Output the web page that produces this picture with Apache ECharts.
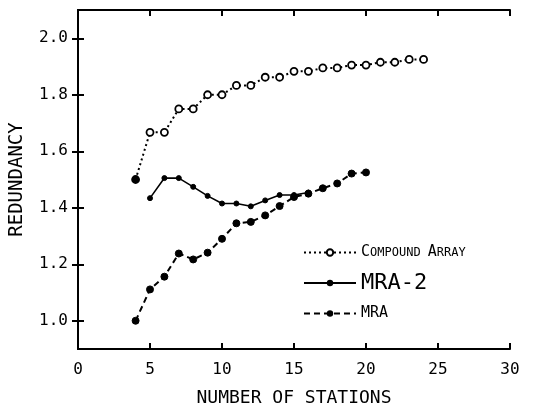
<!DOCTYPE html>
<html lang="en">
<head>
  <meta charset="UTF-8">
  <script src="https://cdn.jsdelivr.net/npm/echarts@6.0.0/dist/echarts.min.js"></script>
  <style>
    html, body { margin: 0; padding: 0; background: #fff; }
  </style>
</head>
<body>
  <div id="main" style="width: 545px;height:409px;"></div>
  <script type="text/javascript">

    // number of stations
    let compoundX = [4, 5, 6, 7, 8, 9, 10, 11, 12, 13, 14, 15, 16, 17, 18, 19, 20, 21, 22, 23, 24];
    let compoundY = [1.50, 1.667, 1.667, 1.75, 1.75, 1.80, 1.80, 1.833, 1.833, 1.862, 1.862, 1.883, 1.883, 1.895, 1.895, 1.905, 1.905, 1.915, 1.915, 1.925, 1.925];

    let mra2X = [5, 6, 7, 8, 9, 10, 11, 12, 13, 14, 15, 16];
    let mra2Y = [1.434, 1.505, 1.505, 1.474, 1.442, 1.415, 1.415, 1.405, 1.426, 1.445, 1.445, 1.454];

    let mraX = [4, 5, 6, 7, 8, 9, 10, 11, 12, 13, 14, 15, 16, 17, 18, 19, 20];
    let mraY = [1.00, 1.111, 1.156, 1.238, 1.217, 1.241, 1.29, 1.345, 1.35, 1.373, 1.406, 1.438, 1.45, 1.469, 1.486, 1.521, 1.525];

    let yTicks = [1.0, 1.2, 1.4, 1.6, 1.8, 2.0];

    let font = 'DejaVu Sans Mono';

    function pairs(xs, ys) {
      return xs.map(function (x, i) { return [x, ys[i]]; });
    }

    var myChart = echarts.init(document.getElementById('main'));

    let yBase = {
      type: 'value',
      min: 0.9,
      max: 2.1,
      splitLine: { show: false },
      axisLine: { show: true, lineStyle: { color: '#000', width: 2 } },
      axisTick: { show: true, inside: true, length: 6, customValues: yTicks, lineStyle: { color: '#000', width: 2 } },
      axisLabel: { show: true, customValues: yTicks, formatter: function (v) { return v.toFixed(1); }, color: '#000', fontFamily: font, fontSize: 16, margin: 10 }
    };
    let xBase = {
      type: 'value',
      min: 0,
      max: 30,
      interval: 5,
      splitLine: { show: false },
      axisLine: { show: true, lineStyle: { color: '#000', width: 2 } },
      axisTick: { show: true, inside: true, length: 6, lineStyle: { color: '#000', width: 2 } },
      axisLabel: { show: true, color: '#000', fontFamily: font, fontSize: 16, margin: 13 }
    };

    // first compound point is drawn filled in the original
    let compoundData = pairs(compoundX, compoundY).map(function (p, i) {
      return i === 0 ? { value: p, itemStyle: { color: '#000' } } : p;
    });

    myChart.setOption({
      animation: false,
      grid: { left: 78, right: 35, top: 10, bottom: 60, outerBoundsMode: 'none' },
      xAxis: [
        Object.assign({}, xBase, {
          position: 'bottom',
          name: 'NUMBER OF STATIONS',
          nameLocation: 'middle',
          nameGap: 40,
          nameTextStyle: { color: '#000', fontFamily: font, fontSize: 18 }
        }),
        Object.assign({}, xBase, { position: 'top', axisLabel: { show: false } })
      ],
      yAxis: [
        Object.assign({}, yBase, {
          position: 'left',
          name: 'REDUNDANCY',
          nameLocation: 'middle',
          nameGap: 51,
          nameTextStyle: { color: '#000', fontFamily: font, fontSize: 19 }
        }),
        Object.assign({}, yBase, { position: 'right', axisLabel: { show: false } })
      ],
      legend: [
        {
          data: ['Compound Array'], left: 298, top: 240, itemWidth: 52, itemHeight: 8,
          formatter: function () { return '{a|C}{b|OMPOUND }{a|A}{b|RRAY}'; },
          textStyle: {
            color: '#000', fontFamily: font,
            rich: { a: { fontSize: 15, fontFamily: font }, b: { fontSize: 12, fontFamily: font } }
          }
        },
        {
          data: ['MRA-2'], left: 298, top: 267, itemWidth: 52, itemHeight: 8,
          textStyle: { color: '#000', fontFamily: font, fontSize: 22 }
        },
        {
          data: ['MRA'], left: 298, top: 301, itemWidth: 52, itemHeight: 8,
          textStyle: { color: '#000', fontFamily: font, fontSize: 15 }
        }
      ],
      series: [
        {
          name: 'Compound Array',
          type: 'line',
          data: compoundData,
          symbol: 'circle',
          symbolSize: 7,
          lineStyle: { color: '#000', width: 2, type: [2, 3] },
          itemStyle: { color: '#fff', borderColor: '#000', borderWidth: 1.8 }
        },
        {
          name: 'MRA-2',
          type: 'line',
          data: pairs(mra2X, mra2Y),
          symbol: 'circle',
          symbolSize: 5,
          lineStyle: { color: '#000', width: 1.6 },
          itemStyle: { color: '#000', borderColor: '#000' }
        },
        {
          name: 'MRA',
          type: 'line',
          data: pairs(mraX, mraY),
          symbol: 'circle',
          symbolSize: 7,
          lineStyle: { color: '#000', width: 2, type: [6, 4] },
          itemStyle: { color: '#000', borderColor: '#000' }
        }
      ]
    });

  </script>
</body>
</html>
